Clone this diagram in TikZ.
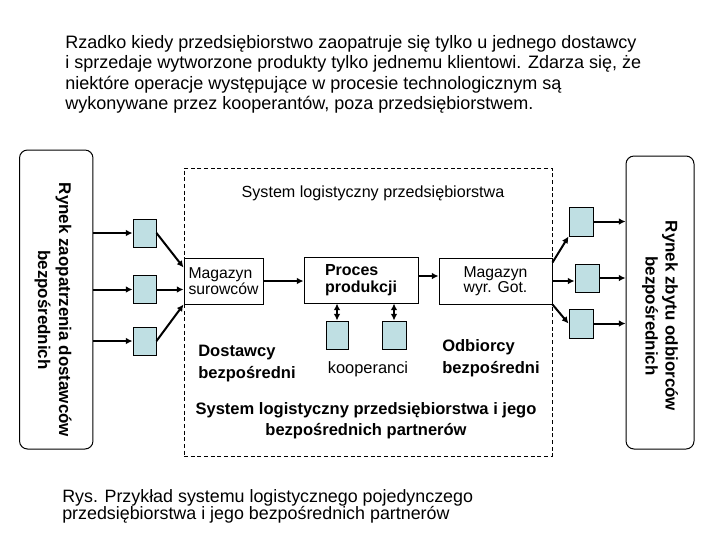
\documentclass[tikz,border=0pt]{standalone}
\usepackage{fontspec}
\setmainfont{Liberation Sans}
\usetikzlibrary{arrows.meta,calc}
\definecolor{boxblue}{RGB}{191,223,227}
\begin{document}
\begin{tikzpicture}[x=0.75pt,y=-0.75pt,
  box/.style={draw,line width=0.75pt,inner sep=0pt},
  sbox/.style={box,fill=boxblue,minimum width=17.25pt,minimum height=21pt},
  mbox/.style={box,minimum height=34.5pt},
  side/.style={draw,line width=0.75pt,rounded corners=6pt,inner sep=0pt},
  arr/.style={line width=1.5pt,-{Latex[length=5pt,width=5pt]}},
  darr/.style={line width=1.5pt,{Latex[length=5pt,width=5pt]}-{Latex[length=5pt,width=5pt]}},
  bigb/.style={font=\fontsize{12.4}{16.5}\selectfont\bfseries},
  med/.style={font=\fontsize{11.8}{11.5}\selectfont},
  lbl/.style={inner sep=0pt}]
\useasboundingbox (0,0) rectangle (720,540);

% top paragraph
\node[lbl,anchor=north west,align=left,font=\fontsize{13.5}{15.4}\selectfont] (para) at (65,35)
 {Rzadko kiedy przedsiębiorstwo zaopatruje się tylko u jednego dostawcy\\
  i sprzedaje wytworzone produkty tylko jednemu klientowi. Zdarza się, że\\
  niektóre operacje występujące w procesie technologicznym są\\
  wykonywane przez kooperantów, poza przedsiębiorstwem.};

% side markets
\node[side,minimum width=55.1pt,minimum height=224.25pt] (lb) at (56.25,299.5) {};
\node[side,minimum width=51pt,minimum height=219.75pt] (rb) at (660,302.5) {};
\node[lbl,rotate=-90,align=center,font=\fontsize{12.7}{15.75}\selectfont\bfseries] (lbt) at (53,310)
 {Rynek zaopatrzenia dostawców\\bezpośrednich};
\node[lbl,rotate=-90,align=center,font=\fontsize{12.7}{15}\selectfont\bfseries] (rbt) at (660,316)
 {Rynek zbytu odbiorców\\bezpośrednich};

% dashed system box
\node[draw,dashed,dash pattern=on 3pt off 2pt,line width=0.6pt,minimum width=276pt,minimum height=216pt,inner sep=0pt] (sys) at (368,312) {};
\node[lbl,font=\fontsize{12.1}{13}\selectfont] (syst) at (373,193) {System logistyczny przedsiębiorstwa};

% main boxes
\node[mbox,minimum width=59.25pt,align=left,med] (ms) at (223.5,281) {Magazyn\\surowców};
\node[mbox,minimum width=85.5pt,align=left,font=\fontsize{12}{13}\selectfont\bfseries] (pp) at (361,280) {Proces\\produkcji};
\node[mbox,minimum width=84.75pt,align=center,med] (mw) at (495.5,281) {Magazyn\\wyr. Got.};

% left small boxes
\node[sbox] (s1) at (144.5,233) {};
\node[sbox] (s2) at (144.5,289.5) {};
\node[sbox] (s3) at (144.5,341) {};

% right small boxes
\node[sbox,minimum width=18pt,minimum height=21.75pt] (r1) at (581,221.5) {};
\node[sbox,minimum width=18pt,minimum height=21pt] (r2) at (587,278) {};
\node[sbox,minimum width=18pt,minimum height=21.75pt] (r3) at (581,323.5) {};

% kooperanci boxes
\node[sbox,minimum width=16.5pt] (k1) at (337,335) {};
\node[sbox,minimum width=18pt] (k2) at (394,335) {};

% labels
\node[lbl,bigb,align=left,anchor=west] (dost) at (198,364) {Dostawcy\\bezpośredni};
\node[lbl,font=\fontsize{12.3}{13}\selectfont] (koop) at (368,369) {kooperanci};
\node[lbl,bigb,align=left,anchor=west] (odb) at (442,358.5) {Odbiorcy\\bezpośredni};
\node[lbl,align=center,font=\fontsize{12.4}{15.75}\selectfont\bfseries] (sysp) at (366,420.5)
 {System logistyczny przedsiębiorstwa i jego\\bezpośrednich partnerów};

% caption
\node[lbl,anchor=north west,align=left,font=\fontsize{13.4}{13.2}\selectfont] (cap) at (62,489)
 {Rys. Przykład systemu logistycznego pojedynczego\\przedsiębiorstwa i jego bezpośrednich partnerów};

% arrows left market -> small boxes
\draw[arr] (s1.west -| lb.east) -- (s1.west);
\draw[arr] (s2.west -| lb.east) -- (s2.west);
\draw[arr] (s3.west -| lb.east) -- (s3.west);
% small boxes -> magazyn surowcow
\draw[arr] (s1.east) -- ($(ms.north west)+(0,10)$);
\draw[arr] (s2.east) -- (s2.east -| ms.west);
\draw[arr] (s3.east) -- (ms.south west);
% flow
\draw[arr] (ms.east) -- (ms.east -| pp.west);
\draw[arr] ($(pp.east)+(0,-4)$) -- ($(pp.east -| mw.west)+(0,-4)$);
% magazyn wyr -> right small boxes
\draw[arr] ($(mw.north east)+(0,5)$) -- (r1.south west);
\draw[arr] (mw.east) -- (mw.east -| r2.west);
\draw[arr] (mw.south east) -- (r3.west);
% right small boxes -> market
\draw[arr] (r1.east) -- (r1.east -| rb.west);
\draw[arr] (r2.east) -- (r2.east -| rb.west);
\draw[arr] (r3.east) -- (r3.east -| rb.west);
% kooperanci
\draw[darr] (k1.north) -- (k1.north |- pp.south);
\draw[darr] (k2.north) -- (k2.north |- pp.south);
\end{tikzpicture}
\end{document}
